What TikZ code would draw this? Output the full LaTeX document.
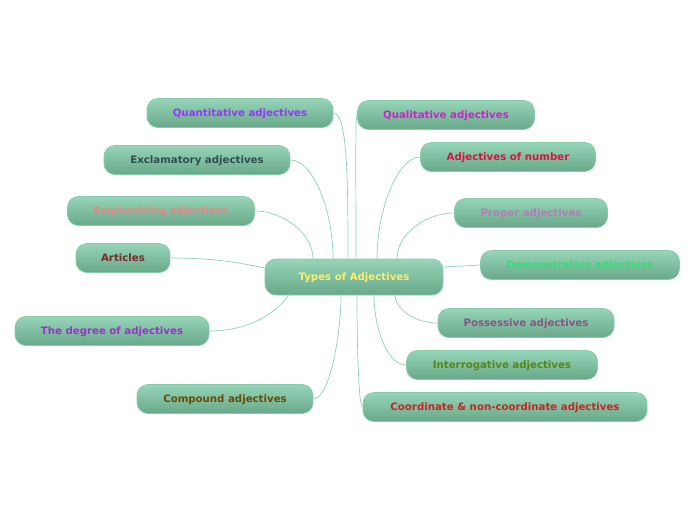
\documentclass[tikz,border=0pt]{standalone}
\usepackage{fontspec}
\setmainfont{DejaVu Sans}
\usetikzlibrary{positioning}

\definecolor{boxtop}{HTML}{97D4B8}
\definecolor{boxbot}{HTML}{68A888}
\definecolor{boxline}{HTML}{86CCAC}
\definecolor{linkcol}{HTML}{8FD0B4}

\begin{document}
\begin{tikzpicture}[
    x=1pt, y=-1pt,
    topic/.style={draw=boxline, line width=0.8pt, rounded corners=11pt, top color=boxtop, bottom color=boxbot,
        minimum height=29pt, font=\bfseries\fontsize{10.2}{12}\selectfont, inner sep=0pt,
        text height=7.6pt, text depth=0pt},
    link/.style={draw=linkcol, line width=0.7pt}
]
\useasboundingbox (0,0) rectangle (696,520);

\node[topic, minimum width=178pt, minimum height=36pt, text={rgb,255:red,255;green,238;blue,102}] (types) at (354,277) {Types of Adjectives};

% left side
\node[topic, minimum width=186pt, text={rgb,255:red,153;green,51;blue,255}] (quant) at (240,113) {Quantitative adjectives};
\node[topic, minimum width=186pt, text={rgb,255:red,47;green,79;blue,79}] (excl) at (197,160) {Exclamatory adjectives};
\node[topic, minimum width=187pt, text={rgb,255:red,240;green,128;blue,128}] (emph) at (161,211) {Emphasizing adjectives};
\node[topic, minimum width=94pt, text={rgb,255:red,122;green,42;blue,42}] (art) at (123,258) {Articles};
\node[topic, minimum width=194pt, text={rgb,255:red,153;green,51;blue,204}] (degree) at (112,331) {The degree of adjectives};
\node[topic, minimum width=176pt, text={rgb,255:red,107;green,74;blue,0}] (comp) at (225,399) {Compound adjectives};

% right side
\node[topic, minimum width=177pt, text={rgb,255:red,204;green,34;blue,204}] (qual) at (446,115) {Qualitative adjectives};
\node[topic, minimum width=175pt, text={rgb,255:red,221;green,17;blue,68}] (numb) at (508,157) {Adjectives of number};
\node[topic, minimum width=153pt, text={rgb,255:red,187;green,119;blue,187}] (proper) at (531,213) {Proper adjectives};
\node[topic, minimum width=199pt, text={rgb,255:red,51;green,221;blue,119}] (demo) at (580,265) {Demonstrative adjectives};
\node[topic, minimum width=176pt, text={rgb,255:red,136;green,85;blue,136}] (poss) at (526,323) {Possessive adjectives};
\node[topic, minimum width=191pt, text={rgb,255:red,85;green,136;blue,17}] (inter) at (502,365) {Interrogative adjectives};
\node[topic, minimum width=284pt, text={rgb,255:red,204;green,34;blue,34}] (coord) at (505,407) {Coordinate \& non-coordinate adjectives};

% links above
\draw[link] (quant.east) .. controls +(14,0) and +(0,-80) .. ([xshift=-6pt]types.north);
\draw[link] (excl.east) .. controls +(22,0) and +(0,-50) .. ([xshift=-21pt]types.north);
\draw[link] (emph.east) .. controls +(28,0) and +(0,-25) .. ([xshift=-41pt]types.north);
\draw[link] (qual.west) .. controls +(-2,0) and +(0,-80) .. ([xshift=2pt]types.north);
\draw[link] (numb.west) .. controls +(-22,0) and +(0,-50) .. ([xshift=23pt]types.north);
\draw[link] (proper.west) .. controls +(-28,0) and +(0,-25) .. ([xshift=43pt]types.north);
% links sideways
\draw[link] (art.east) .. controls +(50,0) and +(-20,-4) .. ([yshift=9pt]types.west);
\draw[link] (demo.west) -- ([yshift=10pt]types.east);
% links below
\draw[link] (degree.east) .. controls +(45,0) and +(-10,15) .. ([xshift=-64pt, yshift=2pt]types.south);
\draw[link] (comp.east) .. controls +(16,0) and +(0,40) .. ([xshift=-13pt]types.south);
\draw[link] (coord.west) .. controls +(-4,0) and +(0,50) .. ([xshift=3pt]types.south);
\draw[link] (inter.west) .. controls +(-20,0) and +(0,30) .. ([xshift=20pt]types.south);
\draw[link] (poss.west) .. controls +(-25,0) and +(0,12) .. ([xshift=41pt]types.south);
\end{tikzpicture}
\end{document}
